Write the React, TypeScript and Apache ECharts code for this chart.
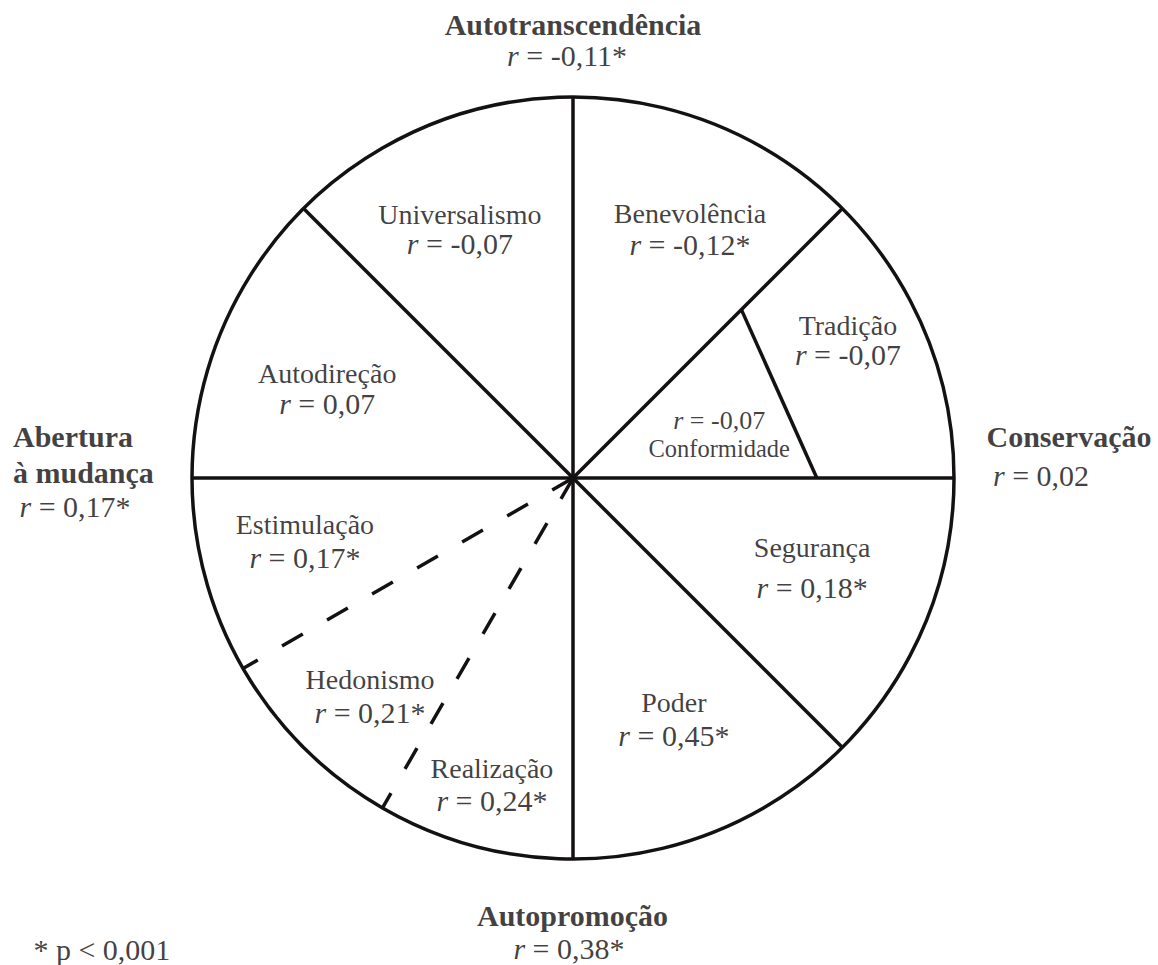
import React, { useEffect, useRef } from 'react';
import * as echarts from 'echarts';

// ---------- data ----------
const valueNames = ['Universalismo', 'Benevolência', 'Tradição', 'Conformidade', 'Autodireção', 'Estimulação', 'Hedonismo', 'Realização', 'Segurança', 'Poder'];
const valueR = ['-0,07', '-0,12*', '-0,07', '-0,07', '0,07', '0,17*', '0,21*', '0,24*', '0,18*', '0,45*'];
const dimensionNames = ['Autotranscendência', 'Conservação', 'Abertura\nà mudança', 'Autopromoção'];
const dimensionR = ['-0,11*', '0,02', '0,17*', '0,38*'];
const footnoteText = '* p < 0,001';
const solidDividerAngles = [0, 45, 90, 135, 180, 270, 315];
const dashedDividerAngles = [210, 240];
const innerDivider = [[0.625, 45], [0.64, 0]]; // Tradição | Conformidade

// ---------- layout (polar anchors: [radius, angle]) ----------
const valueLabelPos = [
  [0.719, 114.4], [0.721, 64.8], [0.807, 26.6], [0.4, 16.4], [0.687, 159.9],
  [0.723, 193.3], [0.781, 227.0], [0.833, 255.2], [0.67, 339.5], [0.686, 292.7],
];
const valueLineHeights = [29, 31, 29, 28, 30, 33, 33, 32, 40, 33];
const valueRFirst = [false, false, false, true, false, false, false, false, false, false];
const valueSmall = [false, false, false, true, false, false, false, false, false, false];
const dimensionTitlePos = [[1.189, 90], [1.3065, 4.84], [1.4712, 177.55], [1.147, 269.94]];
const dimensionTitleAlign = ['center', 'center', 'left', 'center'];
const dimensionRPos = [[1.11, 90.81], [1.2284, 0.245], [1.3093, 183.33], [1.2349, 269.51]];
const footnotePos = [1.8807, 221.15];

const SERIF = 'Liberation Serif';
const INK = '#0f0d0e';
const LINE = '#141112';

export default function App() {
  const ref = useRef<HTMLDivElement>(null);

  useEffect(() => {
    if (!ref.current) return;
    const chart = echarts.init(ref.current, undefined, { renderer: 'svg' });

    const rich = {
      n: { fontSize: 28, fontFamily: SERIF, color: INK },
      ns: { fontSize: 24.5, fontFamily: SERIF, color: INK },
      b: { fontSize: 30, fontFamily: SERIF, fontWeight: 'bold', color: INK },
      i: { fontSize: 30, fontFamily: SERIF, fontStyle: 'italic', color: INK },
      v: { fontSize: 30, fontFamily: SERIF, color: INK },
      is: { fontSize: 26, fontFamily: SERIF, fontStyle: 'italic', color: INK },
      vs: { fontSize: 26, fontFamily: SERIF, color: INK },
    };
    const rLine = (s: string, small = false) =>
      small ? `{is|r}{vs| = ${s}}` : `{i|r}{v| = ${s}}`;

    const dividerSeries: any[] = [];
    solidDividerAngles.forEach((a) => {
      dividerSeries.push({
        type: 'line', coordinateSystem: 'polar', silent: true, symbol: 'none',
        data: [[0, a], [1, a]],
        lineStyle: { color: LINE, width: 3.5, cap: 'butt' },
      });
    });
    dashedDividerAngles.forEach((a) => {
      dividerSeries.push({
        type: 'line', coordinateSystem: 'polar', silent: true, symbol: 'none',
        data: [[0, a], [1, a]],
        lineStyle: { color: LINE, width: 3.5, type: [24, 28], dashOffset: 0, cap: 'butt' },
      });
    });
    dividerSeries.push({
      type: 'line', coordinateSystem: 'polar', silent: true, symbol: 'none',
      data: innerDivider,
      lineStyle: { color: LINE, width: 3.5 },
    });

    const labelData: any[] = [];
    valueNames.forEach((name, k) => {
      const nm = valueSmall[k] ? `{ns|${name}}` : `{n|${name}}`;
      const rl = rLine(valueR[k], valueSmall[k]);
      const txt = valueRFirst[k] ? `${rl}\n${nm}` : `${nm}\n${rl}`;
      labelData.push({
        value: valueLabelPos[k],
        label: { formatter: txt, lineHeight: valueLineHeights[k], align: 'center' },
      });
    });
    dimensionNames.forEach((name, k) => {
      const lines = name.split('\n');
      const txt = lines.map((s) => `{b|${s}}`).join('\n');
      labelData.push({
        value: dimensionTitlePos[k],
        label: { formatter: txt, lineHeight: lines.length > 1 ? 36 : 28, align: dimensionTitleAlign[k] },
      });
      labelData.push({
        value: dimensionRPos[k],
        label: { formatter: rLine(dimensionR[k]), lineHeight: 28, align: 'center' },
      });
    });
    labelData.push({
      value: footnotePos,
      label: { formatter: `{v|${footnoteText}}`, lineHeight: 28, align: 'left' },
    });

    chart.setOption({
      animation: false,
      backgroundColor: '#ffffff',
      textStyle: { fontFamily: SERIF },
      polar: { center: [573, 478], radius: 381 },
      angleAxis: {
        type: 'value', min: 0, max: 360, startAngle: 0, clockwise: false,
        axisLine: { show: true, lineStyle: { color: LINE, width: 3.5 } },
        axisTick: { show: false }, axisLabel: { show: false },
        splitLine: { show: false }, splitArea: { show: false },
      },
      radiusAxis: {
        type: 'value', min: 0, max: 1,
        axisLine: { show: false }, axisTick: { show: false }, axisLabel: { show: false },
        splitLine: { show: false }, splitArea: { show: false },
      },
      series: [
        ...dividerSeries,
        {
          type: 'scatter', coordinateSystem: 'polar', silent: true, clip: false,
          symbolSize: 1, itemStyle: { color: 'rgba(0,0,0,0)' },
          label: { show: true, position: 'inside', rich, color: INK, fontFamily: SERIF },
          emphasis: { disabled: true },
          data: labelData,
        },
      ],
    });

    return () => chart.dispose();
  }, []);

  return (
    <div
      ref={ref}
      style={{ position: 'absolute', left: 0, top: 0, width: 1158, height: 965, background: '#fff' }}
    />
  );
}
